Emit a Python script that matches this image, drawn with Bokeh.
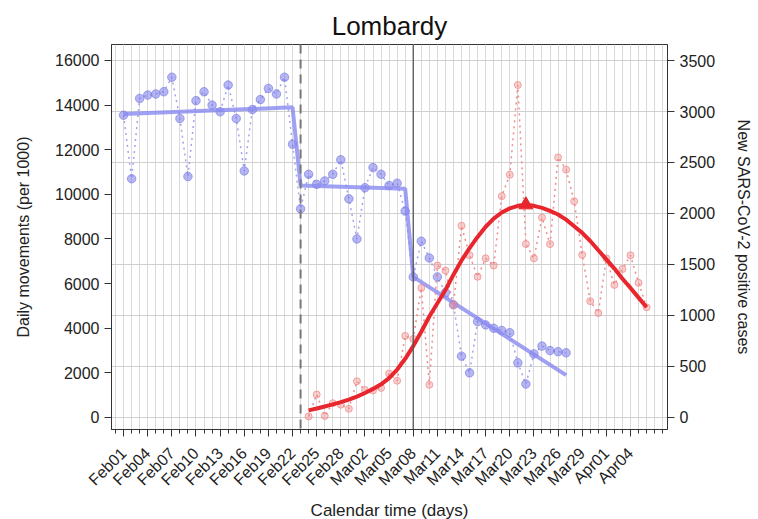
from math import pi
from bokeh.plotting import figure
from bokeh.models import Range1d, LinearAxis, FixedTicker, Span, Grid
from bokeh.embed import file_html
from bokeh.resources import INLINE

# ---- data (day index: 0 = Feb 01, 2020) ----
days_blue = list(range(0, 56))
movements = [13550, 10700, 14300, 14450, 14500, 14600, 15250, 13400, 10800, 14200,
             14600, 14000, 13700, 14900, 13400, 11050, 13800, 14250, 14750, 14500,
             15250, 12250, 9350, 10900, 10450, 10600, 10900, 11550, 9800, 8000,
             10300, 11200, 10900, 10400, 10500, 9250, 6300, 7900, 7150, 6300,
             5600, 5050, 2750, 2000, 4300, 4150, 4000, 3900, 3800, 2450,
             1500, 2850, 3200, 3000, 2950, 2900]
trend_blue_days = [0, 21, 22, 35, 36, 55]
trend_blue = [13600, 13900, 10400, 10250, 6300, 1900]

days_red = list(range(23, 66))
cases = [10, 225, 15, 140, 125, 85, 355, 270, 265, 290,
         430, 360, 800, 770, 1270, 320, 1490, 1440, 1100, 1880,
         1590, 1380, 1560, 1490, 2170, 2380, 3260, 1700, 1560, 1960,
         1700, 2550, 2430, 2120, 1595, 1140, 1025, 1560, 1300, 1455,
         1590, 1320, 1080]
trend_red = [70, 88, 108, 128, 150, 175, 205, 240, 280, 325,
             385, 470, 575, 700, 840, 990, 1120, 1250, 1400, 1540,
             1660, 1770, 1870, 1950, 2010, 2050, 2075, 2085, 2075, 2055,
             2025, 1990, 1940, 1875, 1810, 1730, 1640, 1550, 1460, 1360,
             1270, 1175, 1080]

tick_days = [0, 3, 6, 9, 12, 15, 18, 21, 24, 27, 30, 33, 36, 39, 42, 45, 48, 51, 54, 57, 60, 63]
tick_labels = ["Feb01", "Feb04", "Feb07", "Feb10", "Feb13", "Feb16", "Feb19", "Feb22",
               "Feb25", "Feb28", "Mar02", "Mar05", "Mar08", "Mar11", "Mar14", "Mar17",
               "Mar20", "Mar23", "Mar26", "Mar29", "Apr01", "Apr04"]
all_days = list(range(-1, 68))
left_ticks = [0, 2000, 4000, 6000, 8000, 10000, 12000, 14000, 16000]
right_ticks = [0, 500, 1000, 1500, 2000, 2500, 3000, 3500]
partial_closure_day = 22
lockdown_day = 36

FONT = "Liberation Sans"
BLUE = "#7a7ae8"
RED = "#e8262e"
PINK = "#f08a8a"

p = figure(frame_width=556, frame_height=385,
           x_range=Range1d(-1.5, 67.6), y_range=Range1d(-538, 16717),
           output_backend="svg", toolbar_location=None,
           min_border_left=111, min_border_top=44, min_border_right=75, min_border_bottom=60,
           title="Lombardy")
p.extra_y_ranges = {"cases": Range1d(-118, 3657)}

p.title.text_font = FONT
p.title.text_font_size = "26px"
p.title.text_font_style = "normal"
p.title.align = "center"
p.title.text_color = "#111111"
p.title.standoff = 7

p.outline_line_color = "#333333"
p.background_fill_color = "white"

# x axis
xa = p.xaxis[0]
xa.ticker = FixedTicker(ticks=tick_days, minor_ticks=all_days)
xa.major_label_overrides = {d: lab for d, lab in zip(tick_days, tick_labels)}
xa.major_label_orientation = pi / 4
xa.axis_label = "Calendar time (days)"

# left axis
ya = p.yaxis[0]
ya.ticker = FixedTicker(ticks=left_ticks)
ya.axis_label = "Daily movements (per 1000)"

# right axis
ra = LinearAxis(y_range_name="cases", ticker=FixedTicker(ticks=right_ticks),
                axis_label="New SARS-CoV-2 positive cases")
p.add_layout(ra, "right")

for ax in (xa, ya, ra):
    ax.axis_line_color = "#333333"
    ax.major_tick_line_color = "#333333"
    ax.minor_tick_line_color = "#333333"
    ax.major_tick_out = 7
    ax.major_tick_in = 0
    ax.minor_tick_out = 4
    ax.minor_tick_in = 0
    ax.major_label_text_font = FONT
    ax.major_label_text_font_size = "16px"
    ax.major_label_text_color = "#222222"
    ax.axis_label_text_font = FONT
    ax.axis_label_text_font_size = "16px"
    ax.axis_label_text_font_style = "normal"
    ax.axis_label_text_color = "#222222"
ya.minor_tick_line_color = None
ra.minor_tick_line_color = None
ya.axis_label_standoff = 20
ra.axis_label_standoff = 17
xa.major_label_standoff = 14
xa.axis_label_standoff = 3
xa.axis_label_text_font_size = "17px"

# grids
p.ygrid.visible = False
p.xgrid.grid_line_color = "#dadada"
p.xgrid.minor_grid_line_color = "#dadada"
hg = Grid(dimension=1, ticker=ra.ticker, y_range_name="cases", grid_line_color="#d0d0d0")
p.add_layout(hg)

# vertical reference lines
p.add_layout(Span(location=partial_closure_day, dimension="height", line_color="#777777",
                  line_width=2, line_dash="9 6"))
p.add_layout(Span(location=lockdown_day, dimension="height", line_color="#555555", line_width=1.3))

# movements (left axis)
p.line(days_blue, movements, line_color=BLUE, line_width=1.5, line_dash="dotted", line_alpha=0.7)
p.scatter(days_blue, movements, size=8.5, fill_color=BLUE, fill_alpha=0.55,
          line_color=BLUE, line_alpha=0.65)
p.line(trend_blue_days, trend_blue, line_color="#8a8af0", line_width=4, line_alpha=0.8)

# cases (right axis)
p.line(days_red, cases, line_color=PINK, line_width=1.5, line_dash="dotted",
       y_range_name="cases")
p.scatter(days_red, cases, size=7, fill_color=PINK, fill_alpha=0.4,
          line_color=PINK, line_alpha=0.75, y_range_name="cases")
p.line(days_red, trend_red, line_color=RED, line_width=4, y_range_name="cases")
peak_i = trend_red.index(max(trend_red))
p.scatter([days_red[peak_i]], [trend_red[peak_i]], marker="triangle", size=14,
          fill_color=RED, line_color=RED, y_range_name="cases")

open("out.html", "w").write(file_html(p, INLINE))
